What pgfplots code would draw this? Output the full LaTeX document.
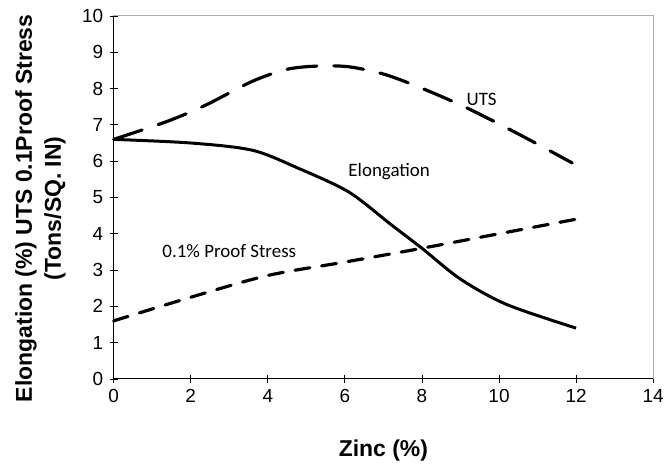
\documentclass[border=0pt]{standalone}
\usepackage{pgfplots}
\pgfplotsset{compat=1.18}
\usepackage{fontspec}
\setmainfont{Liberation Sans}
\newfontfamily\calib{Carlito}

\begin{document}
\begin{tikzpicture}
  \begin{axis}[
      width=541pt, height=364pt, scale only axis,
      xmin=0, xmax=14, ymin=0, ymax=10,
      xtick={0,2,...,14}, ytick={0,1,...,10},
      tick align=center, major tick length=8pt,
      tick style={black, line width=0.8pt},
      xtick pos=bottom, ytick pos=left,
      axis line style={gray!65, line width=1pt},
      tick label style={font=\fontsize{19}{21}\selectfont},
      xticklabel style={yshift=-3pt},
      yticklabel style={xshift=-3pt},
      /pgf/number format/assume math mode=true,
      xlabel={\bfseries Zinc (\%)},
      ylabel={\bfseries\begin{tabular}{c}Elongation (\%) UTS 0.1Proof Stress\\[4pt](Tons/SQ. IN)\end{tabular}},
      label style={font=\fontsize{23}{25}\selectfont},
      xlabel style={yshift=-30pt},
      ylabel style={at={(ticklabel cs:0.47)}, yshift=7pt},
      clip=false,
    ]
    % thin grey frame top/right, black axis lines left/bottom
    \draw[gray!65, line width=1pt] (rel axis cs:0,1) -- (rel axis cs:1,1) -- (rel axis cs:1,0);
    \draw[black, line width=1pt] (rel axis cs:0,1) -- (rel axis cs:0,0) -- (rel axis cs:1,0);
    % UTS
    \addplot[black, line width=3.2pt, smooth, line cap=round, dash pattern=on 30pt off 17pt] coordinates {
      (0,6.6) (1.4,7.1) (2.4,7.55) (3.6,8.2) (4.5,8.53) (5.3,8.62) (6.1,8.6)
      (7.0,8.4) (7.9,8.05) (9.1,7.5) (10.5,6.75) (11.9,5.95)};
    % Elongation
    \addplot[black, line width=3pt, smooth] coordinates {
      (0,6.6) (2,6.5) (3.6,6.3) (4.8,5.8) (6.1,5.15) (7.2,4.25) (8,3.6)
      (9,2.75) (10.2,2.05) (12,1.4)};
    % 0.1% Proof Stress
    \addplot[black, line width=3.2pt, smooth, line cap=round, dash pattern=on 15pt off 12pt] coordinates {
      (0,1.6) (2,2.25) (4,2.85) (6,3.22) (8,3.6) (10,4.0) (12,4.4)};
    \node[font=\calib\fontsize{19}{21}\selectfont] at (axis cs:9.55,7.7) {UTS};
    \node[font=\calib\fontsize{19}{21}\selectfont] at (axis cs:7.15,5.72) {Elongation};
    \node[font=\calib\fontsize{19}{21}\selectfont] at (axis cs:3.0,3.52) {0.1\% Proof Stress};
  \end{axis}
  \path ([shift={(-114pt,-97pt)}]current axis.south west) rectangle ([shift={(12pt,16pt)}]current axis.north east);
\end{tikzpicture}
\end{document}
